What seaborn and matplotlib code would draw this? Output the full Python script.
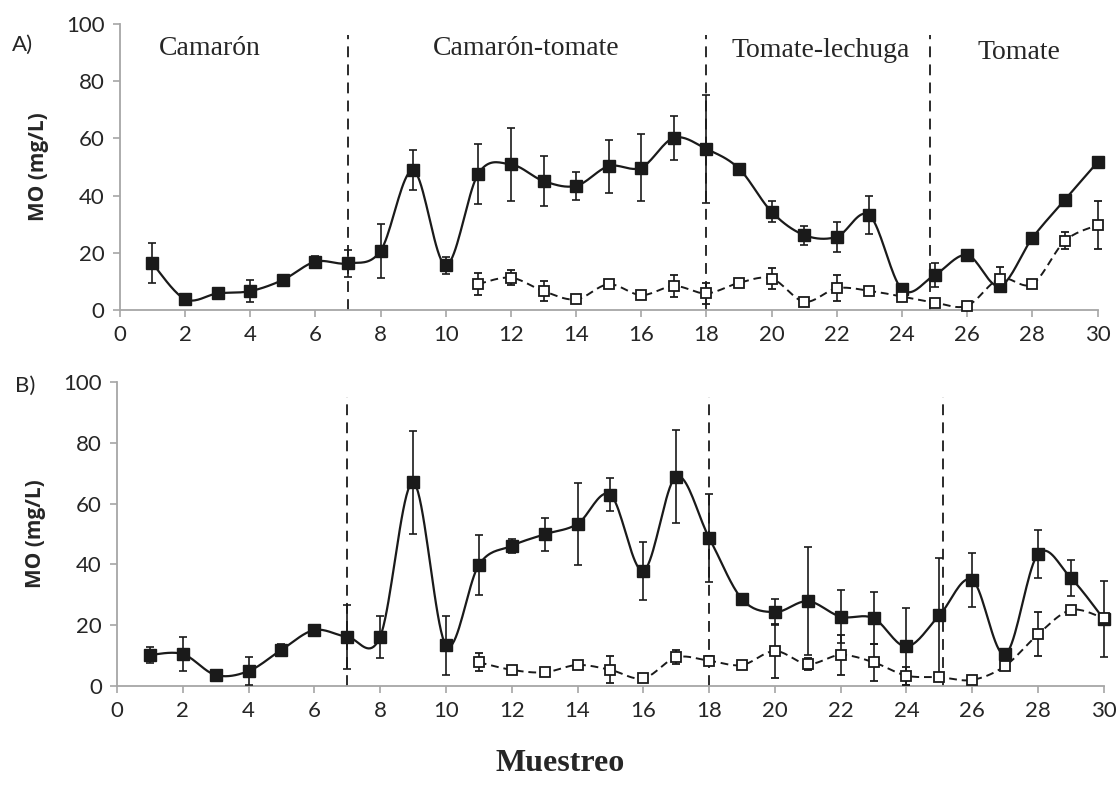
import numpy as np
import pandas as pd
import matplotlib
matplotlib.use("Agg")
import matplotlib.pyplot as plt
import seaborn as sns

sns.set_theme(style="white")
plt.rcParams['font.family'] = ['Lato', 'DejaVu Sans']

muestreo = list(range(1, 31))
muestreo_open = list(range(11, 31))

# Panel A
a_fill = [16.3, 3.8, 5.8, 6.6, 10.5, 16.9, 16.3, 20.7, 48.8, 15.7,
          47.7, 50.9, 45.1, 43.4, 50.3, 49.8, 60.2, 56.3, 49.4, 34.3,
          26.2, 25.6, 33.1, 7.2, 12.2, 19.2, 8.4, 25.2, 38.6, 51.7]
a_fill_err = [7.0, 0, 0, 3.8, 1.8, 2.0, 4.7, 9.5, 7.0, 3.0,
              10.5, 12.8, 8.6, 4.8, 9.3, 11.7, 7.6, 19.0, 0, 3.7,
              3.3, 5.2, 6.6, 0, 4.3, 0, 0, 0, 0, 0]
a_open = [9.1, 11.3, 6.6, 3.7, 9.0, 5.2, 8.4, 5.8, 9.5, 11.0,
          2.9, 7.6, 6.7, 4.7, 2.6, 1.5, 11.0, 9.1, 24.2, 29.7]
a_open_err = [3.8, 2.6, 3.4, 0, 0, 0, 4.0, 3.8, 0, 3.7,
              0, 4.5, 1.5, 0, 0, 0, 4.0, 0, 3.0, 8.4]

# Panel B
b_fill = [10.2, 10.5, 3.6, 4.9, 11.9, 18.4, 16.2, 16.2, 67.0, 13.4,
          39.8, 46.1, 49.9, 53.3, 62.9, 37.9, 68.9, 48.8, 28.6, 24.3,
          27.9, 22.8, 22.3, 13.0, 23.2, 34.9, 10.4, 43.4, 35.5, 22.0]
b_fill_err = [2.7, 5.6, 0, 4.7, 2.0, 1.0, 10.6, 6.9, 17.0, 9.7,
              10.0, 2.2, 5.5, 13.4, 5.5, 9.5, 15.2, 14.5, 0, 4.4,
              17.8, 8.8, 8.6, 12.8, 18.9, 8.8, 0, 7.9, 5.9, 12.6]
b_open = [7.8, 5.3, 4.5, 6.9, 5.3, 2.5, 9.4, 8.3, 6.9, 11.5,
          7.2, 10.2, 7.8, 3.4, 2.9, 2.0, 6.6, 17.0, 25.0, 22.3]
b_open_err = [3.0, 0, 0, 0, 4.4, 0, 2.3, 1.5, 0, 9.0,
              2.0, 6.5, 6.0, 3.0, 0, 0, 0, 7.3, 0, 0]

phase_lines_a = [7, 18, 24.85]
phase_lines_b = [7, 18, 25.1]
phase_names = ["Camarón", "Camarón-tomate", "Tomate-lechuga", "Tomate"]
phase_pos = [(2.76, 91.6), (12.48, 91.6), (21.5, 90.9), (27.6, 89.9)]


def smooth(x, y, n=20):
    x = np.asarray(x, float)
    y = np.asarray(y, float)
    xs, ys = [], []
    for i in range(len(x) - 1):
        p0 = np.array([x[max(i - 1, 0)], y[max(i - 1, 0)]])
        p1 = np.array([x[i], y[i]])
        p2 = np.array([x[i + 1], y[i + 1]])
        p3 = np.array([x[min(i + 2, len(x) - 1)], y[min(i + 2, len(x) - 1)]])
        c1 = p1 + (p2 - p0) / 6.0
        c2 = p2 - (p3 - p1) / 6.0
        t = np.linspace(0, 1, n, endpoint=(i == len(x) - 2))
        b = ((1 - t) ** 3)[:, None] * p1 + (3 * (1 - t) ** 2 * t)[:, None] * c1 \
            + (3 * (1 - t) * t ** 2)[:, None] * c2 + (t ** 3)[:, None] * p2
        xs.extend(b[:, 0]); ys.extend(b[:, 1])
    return pd.DataFrame({"x": xs, "y": ys})


fig = plt.figure(figsize=(11.2, 8.01), dpi=100)
axA = fig.add_axes([0.107, 0.613, 0.873, 0.357])
axB = fig.add_axes([0.1045, 0.1436, 0.881, 0.3795])

spine_c = "#a6a6a6"
txt_c = "#262626"


def draw(ax, fill, fill_err, opn, opn_err, vlines, vtop):
    sf = smooth(muestreo, fill)
    so = smooth(muestreo_open, opn)
    sns.lineplot(data=sf, x="x", y="y", ax=ax, color="#1a1a1a", lw=1.6,
                 sort=False, estimator=None, zorder=3)
    sns.lineplot(data=so, x="x", y="y", ax=ax, color="#1a1a1a", lw=1.4,
                 sort=False, estimator=None, zorder=3, linestyle=(0, (4, 2.5)))
    e1 = ax.errorbar(muestreo, fill, yerr=fill_err, fmt="s", ms=8.7, mfc="#1a1a1a",
                     mec="#1a1a1a", ecolor="#1a1a1a", elinewidth=1.2, capsize=3,
                     capthick=1.2, zorder=4)
    e2 = ax.errorbar(muestreo_open, opn, yerr=opn_err, fmt="s", ms=6.5, mfc="white",
                     mec="#1a1a1a", mew=1.3, ecolor="#1a1a1a", elinewidth=1.2,
                     capsize=3, capthick=1.2, zorder=5)
    for e in (e1, e2):
        for art in e.get_children():
            art.set_clip_on(False)
    for line in ax.get_lines():
        line.set_clip_on(False)
    for v in vlines:
        ax.plot([v, v], [0, vtop], color="#1a1a1a", lw=1.3,
                linestyle=(0, (6, 4)), zorder=2)
    ax.set_xlim(0, 30)
    ax.set_ylim(0, 100)
    ax.set_xticks(range(0, 31, 2))
    ax.set_yticks(range(0, 101, 20))
    for s in ["top", "right"]:
        ax.spines[s].set_visible(False)
    for s in ["left", "bottom"]:
        ax.spines[s].set_color(spine_c)
        ax.spines[s].set_linewidth(1.3)
    ax.tick_params(axis="both", which="both", direction="out", length=5,
                   width=1.2, color=spine_c, labelsize=16, labelcolor=txt_c,
                   bottom=True, left=True, pad=6)
    ax.set_xlabel("")
    ax.set_ylabel("MO (mg/L)", fontsize=15, fontweight="bold", color=txt_c,
                  family=["Open Sans", "DejaVu Sans"], labelpad=12)
    ax.set_facecolor("white")


draw(axA, a_fill, a_fill_err, a_open, a_open_err, phase_lines_a, 96)
draw(axB, b_fill, b_fill_err, b_open, b_open_err, phase_lines_b, 95)

for name, (px, py) in zip(phase_names, phase_pos):
    axA.text(px, py, name, ha="center", va="center", fontsize=20,
             family=["Liberation Serif", "DejaVu Serif"], color=txt_c)

fig.text(0.011, 0.944, "A)", fontsize=16, color=txt_c, ha="left", va="center")
fig.text(0.013, 0.518, "B)", fontsize=16, color=txt_c, ha="left", va="center")
fig.text(0.5, 0.047, "Muestreo", fontsize=23, fontweight="bold",
         family=["Liberation Serif", "DejaVu Serif"], color=txt_c,
         ha="center", va="center")

fig.savefig("out.png", dpi=100, facecolor="white")
